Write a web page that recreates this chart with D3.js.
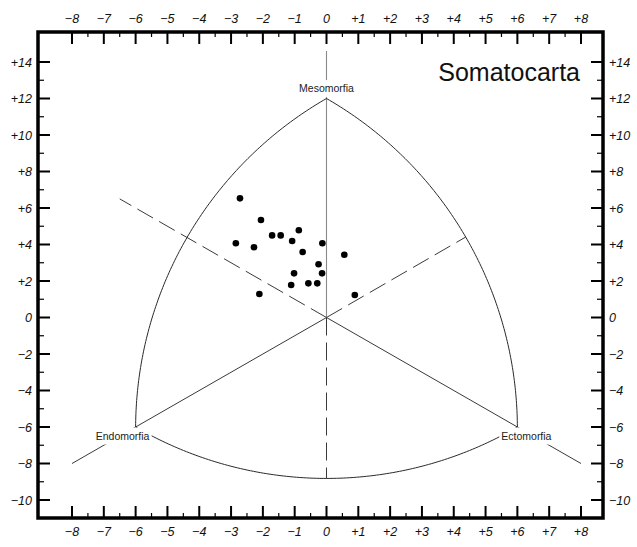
<!DOCTYPE html>
<html><head><meta charset="utf-8">
<script src="https://cdn.jsdelivr.net/npm/d3@7"></script>
<style>body{margin:0;background:#fff}svg{display:block}</style>
</head><body><svg id="c" width="637" height="547"></svg>
<script>
// ---- data ----
const xTickValues = [-8,-7,-6,-5,-4,-3,-2,-1,0,1,2,3,4,5,6,7,8];
const yTickValues = [-10,-8,-6,-4,-2,0,2,4,6,8,10,12,14];
const vertexNames = ["Mesomorfia","Endomorfia","Ectomorfia"];
const vertexX = [0,-6,6];
const vertexY = [12,-6,-6];
const pointX = [-2.72,-2.06,-2.85,-2.28,-1.71,-1.44,-1.08,-0.87,-0.75,-0.13,-0.25,-0.14,-1.02,-1.11,-0.57,-0.29,-2.11,0.56,0.89];
const pointY = [6.53,5.34,4.07,3.85,4.50,4.50,4.19,4.78,3.59,4.07,2.92,2.42,2.42,1.78,1.87,1.87,1.29,3.44,1.23];
const title = "Somatocarta";

// ---- layout ----
const frame = {l:38, r:603, t:32, b:518};
const svg = d3.select("#c");
const x = d3.scaleLinear().domain([-8,8]).range([72,581]);
const y = d3.scaleLinear().domain([-10,14]).range([500,62]);
const fmt = v => v > 0 ? "+" + v : (v < 0 ? "\u2212" + Math.abs(v) : "0");
const line = d3.line().x(d => x(d[0])).y(d => y(d[1]));

const V = vertexNames.map((n,i) => ({name:n, p:[vertexX[i], vertexY[i]]}));
const M = V[0].p, E = V[1].p, C = V[2].p;

// arc of Reuleaux triangle (circle in pixel space centred at opposite vertex)
function arcPts(center, p1, p2) {
  const cx = x(center[0]), cy = y(center[1]);
  let a1 = Math.atan2(y(p1[1]) - cy, x(p1[0]) - cx);
  let a2 = Math.atan2(y(p2[1]) - cy, x(p2[0]) - cx);
  if (a2 - a1 > Math.PI) a2 -= 2*Math.PI;
  if (a2 - a1 < -Math.PI) a2 += 2*Math.PI;
  const r1 = Math.hypot(x(p1[0]) - cx, y(p1[1]) - cy);
  const r2 = Math.hypot(x(p2[0]) - cx, y(p2[1]) - cy);
  const pts = [];
  for (let i = 0; i <= 120; i++) {
    const t = i/120, a = a1 + (a2-a1)*t, r = r1 + (r2-r1)*t;
    pts.push([x.invert(cx + r*Math.cos(a)), y.invert(cy + r*Math.sin(a))]);
  }
  return pts;
}
const arcR = arcPts(E, M, C);
const arcL = arcPts(C, M, E);
const arcB = arcPts(M, E, C);

function rayHit(arc, dir) {
  let best = null, bd = Infinity;
  arc.forEach(p => {
    const d = Math.abs(p[0]*dir[1] - p[1]*dir[0]);
    if (p[0]*dir[0] + p[1]*dir[1] > 0 && d < bd) { bd = d; best = p; }
  });
  return best;
}
const hitUR = rayHit(arcR, [1,1]);
const hitDown = rayHit(arcB, [0,-1]);

const g = svg.append("g");
const lc = "#3a3a3a";
const dash = "18,7";
g.append("path").attr("d", line([[0,14.6],[0,0]])).attr("stroke","#8a8a8a").attr("stroke-width",1.1).attr("fill","none");
g.append("path").attr("d", line([[0,0],[0,hitDown[1]]])).attr("stroke",lc).attr("stroke-width",1).attr("stroke-dasharray",dash).attr("fill","none");
g.append("path").attr("d", line([[-8,-8],[0,0]])).attr("stroke",lc).attr("stroke-width",1).attr("fill","none");
g.append("path").attr("d", line([[0,0],[hitUR[0],hitUR[1]]])).attr("stroke",lc).attr("stroke-width",1).attr("stroke-dasharray",dash).attr("fill","none");
g.append("path").attr("d", line([[8,-8],[0,0]])).attr("stroke",lc).attr("stroke-width",1).attr("fill","none");
g.append("path").attr("d", line([[0,0],[-6.5,6.5]])).attr("stroke",lc).attr("stroke-width",1).attr("stroke-dasharray",dash).attr("fill","none");
[arcR, arcL, arcB].forEach(a => g.append("path").attr("d", line(a)).attr("stroke","#2a2a2a").attr("stroke-width",1).attr("fill","none"));

const labelPos = {Mesomorfia:[0,-10], Endomorfia:[-13,9], Ectomorfia:[9,9]};
V.forEach(v => {
  const off = labelPos[v.name];
  const tx = x(v.p[0]) + off[0], ty = y(v.p[1]) + off[1];
  const t = g.append("text").attr("x", tx).attr("y", ty + 3.8).attr("text-anchor","middle")
    .attr("font-family","Liberation Sans, Arial, sans-serif").attr("font-size",10.5).attr("fill","#222").text(v.name);
  const bb = t.node().getBBox();
  g.insert("rect", () => t.node()).attr("x", bb.x - 2).attr("y", ty - 8.5).attr("width", bb.width + 4).attr("height", 17).attr("fill","#fff");
});

g.selectAll("circle.pt").data(pointX.map((v,i) => [v, pointY[i]])).enter().append("circle")
  .attr("class","pt").attr("cx", d => x(d[0])).attr("cy", d => y(d[1])).attr("r", 3.3).attr("fill","#000");

svg.append("text").attr("x", 580).attr("y", 81).attr("text-anchor","end")
  .attr("font-family","Liberation Sans, Arial, sans-serif").attr("font-size",25).attr("fill","#111").text(title);

const ax = svg.append("g").attr("stroke","#000");
xTickValues.forEach(v => {
  ax.append("line").attr("x1",x(v)).attr("x2",x(v)).attr("y1",frame.t).attr("y2",frame.t+12).attr("stroke-width",2);
  ax.append("line").attr("x1",x(v)).attr("x2",x(v)).attr("y1",frame.b).attr("y2",frame.b-12).attr("stroke-width",2);
  if (v < 8) {
    const m = v + 0.5;
    ax.append("line").attr("x1",x(m)).attr("x2",x(m)).attr("y1",frame.t).attr("y2",frame.t+5).attr("stroke-width",1.2);
    ax.append("line").attr("x1",x(m)).attr("x2",x(m)).attr("y1",frame.b).attr("y2",frame.b-5).attr("stroke-width",1.2);
  }
});
yTickValues.forEach(v => {
  ax.append("line").attr("y1",y(v)).attr("y2",y(v)).attr("x1",frame.l).attr("x2",frame.l+12).attr("stroke-width",2);
  ax.append("line").attr("y1",y(v)).attr("y2",y(v)).attr("x1",frame.r).attr("x2",frame.r-12).attr("stroke-width",2);
  if (v < 14) {
    const m = v + 1;
    ax.append("line").attr("y1",y(m)).attr("y2",y(m)).attr("x1",frame.l).attr("x2",frame.l+6).attr("stroke-width",1.2);
    ax.append("line").attr("y1",y(m)).attr("y2",y(m)).attr("x1",frame.r).attr("x2",frame.r-6).attr("stroke-width",1.2);
  }
});
ax.append("rect").attr("x",frame.l).attr("y",frame.t).attr("width",frame.r-frame.l).attr("height",frame.b-frame.t)
  .attr("fill","none").attr("stroke-width",3.5);

const tl = svg.append("g").attr("font-family","Liberation Sans, Arial, sans-serif").attr("font-size",12.5)
  .attr("font-style","italic").attr("fill","#111");
xTickValues.forEach(v => {
  tl.append("text").attr("x",x(v)).attr("y",frame.t-9).attr("text-anchor","middle").text(fmt(v));
  tl.append("text").attr("x",x(v)).attr("y",frame.b+18).attr("text-anchor","middle").text(fmt(v));
});
yTickValues.forEach(v => {
  tl.append("text").attr("x",frame.l-6).attr("y",y(v)+4.5).attr("text-anchor","end").text(fmt(v));
  tl.append("text").attr("x",frame.r+6).attr("y",y(v)+4.5).attr("text-anchor","start").text(fmt(v));
});
</script></body></html>
